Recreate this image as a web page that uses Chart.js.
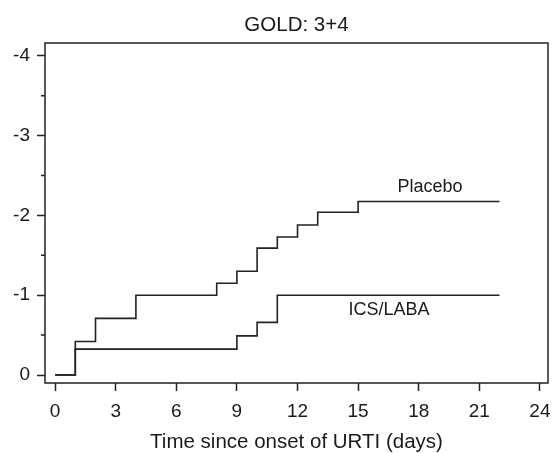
<!DOCTYPE html>
<html>
<head>
<meta charset="utf-8">
<script src="https://cdn.jsdelivr.net/npm/chart.js@4"></script>
<style>
  html, body { margin: 0; padding: 0; background: #fff; }
  #wrap { width: 552px; height: 453px; position: relative; }
</style>
</head>
<body>
<div id="wrap"><canvas id="c"></canvas></div>
<script>
// ---- data ----
const placeboDays   = [0, 1, 2, 4, 8, 9, 10, 11, 12, 13, 15, 22];
const placeboValues = [0, -0.42, -0.71, -1.0, -1.15, -1.30, -1.59, -1.73, -1.88, -2.04, -2.175, -2.175];
const icsDays       = [0, 1, 9, 10, 11, 22];
const icsValues     = [0, -0.325, -0.49, -0.66, -1.0, -1.0];
const xTickValues   = [0, 3, 6, 9, 12, 15, 18, 21, 24];
const yTickValues   = [-4, -3, -2, -1, 0];
const yMinorTicks   = [-3.5, -2.5, -1.5, -0.5];
const seriesNames   = ['Placebo', 'ICS/LABA'];

const INK = '#222222';
const FONT = "'Liberation Sans', Arial, Helvetica, sans-serif";

function toPoints(xs, ys) { return xs.map((x, i) => ({ x: x, y: ys[i] })); }

const framePlugin = {
  id: 'frame',
  afterDatasetsDraw(chart) {
    const ctx = chart.ctx, a = chart.chartArea;
    const ys = chart.scales.y;
    ctx.save();
    ctx.strokeStyle = INK;
    ctx.lineWidth = 1.5;
    ctx.strokeRect(a.left, a.top, a.right - a.left, a.bottom - a.top);
    // minor y ticks
    ctx.beginPath();
    yMinorTicks.forEach(v => {
      const p = ys.getPixelForValue(v);
      ctx.moveTo(a.left - 4, p);
      ctx.lineTo(a.left, p);
    });
    ctx.stroke();
    // series labels
    const xs = chart.scales.x;
    ctx.fillStyle = '#1a1a1a';
    ctx.font = "18px " + FONT;
    ctx.textAlign = 'center';
    ctx.textBaseline = 'middle';
    const anchors = [[18.56, -2.35], [16.53, -0.81]];
    seriesNames.forEach((n, i) => {
      ctx.fillText(n, xs.getPixelForValue(anchors[i][0]), ys.getPixelForValue(anchors[i][1]));
    });
    ctx.restore();
  }
};

new Chart(document.getElementById('c'), {
  type: 'line',
  data: {
    datasets: [
      { label: seriesNames[0], data: toPoints(placeboDays, placeboValues), stepped: true,
        borderColor: INK, borderWidth: 1.6, pointRadius: 0, fill: false },
      { label: seriesNames[1], data: toPoints(icsDays, icsValues), stepped: true,
        borderColor: INK, borderWidth: 1.6, pointRadius: 0, fill: false }
    ]
  },
  options: {
    responsive: true,
    maintainAspectRatio: false,
    animation: false,
    events: [],
    layout: { padding: { left: 0, right: 4, top: 0, bottom: 0 } },
    plugins: {
      legend: { display: false },
      tooltip: { enabled: false },
      title: {
        display: true,
        fullSize: false,
        text: 'GOLD: 3+4',
        color: '#1a1a1a',
        font: { family: FONT, size: 20.5, weight: 'normal' },
        padding: { top: 13, bottom: 5.4 }
      }
    },
    scales: {
      x: {
        type: 'linear',
        min: -0.5, max: 24.4,
        afterBuildTicks: s => { s.ticks = xTickValues.map(v => ({ value: v })); },
        afterFit: s => { s.height = 70; s.paddingLeft = 0; s.paddingRight = 0; },
        grid: { drawOnChartArea: false, drawTicks: true, tickLength: 8, tickColor: INK, tickWidth: 1.5 },
        border: { display: false },
        ticks: { color: '#1a1a1a', font: { family: FONT, size: 19 }, padding: 9, maxRotation: 0 },
        title: {
          display: true,
          text: 'Time since onset of URTI (days)',
          color: '#1a1a1a',
          font: { family: FONT, size: 20.5 },
          padding: { top: 0, bottom: -1.5 }
        }
      },
      y: {
        type: 'linear',
        reverse: true,
        min: -4.16, max: 0.1,
        afterBuildTicks: s => { s.ticks = yTickValues.map(v => ({ value: v })); },
        afterFit: s => { s.width = 45; s.paddingTop = 0; s.paddingBottom = 0; },
        grid: { drawOnChartArea: false, drawTicks: true, tickLength: 8, tickColor: INK, tickWidth: 1.5 },
        border: { display: false },
        ticks: { color: '#1a1a1a', font: { family: FONT, size: 19 }, padding: 7 }
      }
    }
  },
  plugins: [framePlugin]
});
</script>
</body>
</html>
